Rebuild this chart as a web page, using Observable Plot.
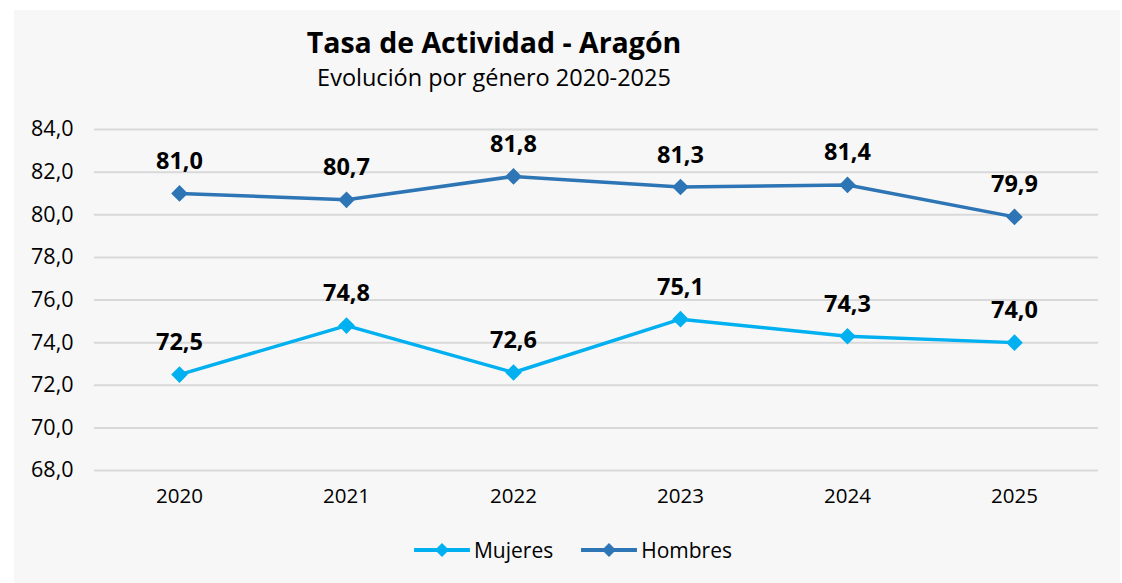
<!DOCTYPE html>
<html>
<head>
<meta charset="utf-8">
<script src="https://cdn.jsdelivr.net/npm/d3@7"></script>
<script src="https://cdn.jsdelivr.net/npm/@observablehq/plot@0.6"></script>
<style>
  html, body { margin: 0; padding: 0; background: #ffffff; width: 1122px; height: 583px; overflow: hidden; }
  #panel { position: absolute; left: 14px; top: 10px; width: 1106px; height: 573px; background: #f7f7f7; font-family: "Open Sans", sans-serif; color: #000; }
  #title { position: absolute; left: 0; width: 960px; top: 17px; text-align: center; font-weight: 700; font-size: 28.5px; line-height: 30px; }
  #subtitle { position: absolute; left: 0; width: 960px; top: 54px; text-align: center; font-size: 23.5px; line-height: 27px; }
  #chart { position: absolute; left: 0; top: 85px; }
  #legend { position: absolute; left: 0; width: 1118px; top: 526px; display: flex; justify-content: center; align-items: center; font-size: 21px; }
  .item { display: flex; align-items: center; margin: 0 14px; }
  .item svg { margin-right: 4px; }
</style>
</head>
<body>
<div id="panel">
  <div id="title">Tasa de Actividad - Aragón</div>
  <div id="subtitle">Evolución por género 2020-2025</div>
  <div id="chart"></div>
  <div id="legend"></div>
</div>
<script>
const years = ["2020", "2021", "2022", "2023", "2024", "2025"];
const mujeres = [72.5, 74.8, 72.6, 75.1, 74.3, 74.0];
const hombres = [81.0, 80.7, 81.8, 81.3, 81.4, 79.9];
const yTicks = [68, 70, 72, 74, 76, 78, 80, 82, 84];
const seriesNames = ["Mujeres", "Hombres"];
const seriesColors = ["#00b0f0", "#2e75b6"];

const data = [];
years.forEach((y, i) => {
  data.push({year: y, value: mujeres[i], serie: "Mujeres"});
  data.push({year: y, value: hombres[i], serie: "Hombres"});
});
const fmt = v => v.toFixed(1).replace(".", ",");

const plot = Plot.plot({
  width: 1106,
  height: 430,
  marginLeft: 80,
  marginRight: 22,
  marginTop: 34,
  marginBottom: 55,
  style: { background: "transparent", fontFamily: "Open Sans, sans-serif", fontSize: "20px", color: "#000" },
  x: { type: "point", domain: years, padding: 0.5, label: null, tickSize: 0, tickPadding: 18 },
  y: { domain: [68, 84], ticks: yTicks, label: null, tickSize: 0, tickPadding: 21, tickFormat: fmt },
  color: { domain: seriesNames, range: seriesColors },
  marks: [
    Plot.gridY(yTicks, { stroke: "#d9d9d9", strokeOpacity: 1, strokeWidth: 2 }),
    Plot.axisY(yTicks, { tickSize: 0, tickPadding: 21, tickFormat: fmt, fontSize: 21.5, fill: "#000", label: null }),
    Plot.axisX({ tickSize: 0, tickPadding: 18, fontSize: 20.5, fill: "#000", label: null }),
    Plot.line(data, { x: "year", y: "value", z: "serie", stroke: "serie", strokeWidth: 3.5 }),
    Plot.dot(data, { x: "year", y: "value", fill: "serie", symbol: "diamond2", r: 7.5 }),
    Plot.text(data, { x: "year", y: "value", text: d => fmt(d.value), dy: -32, fontWeight: 700, fontSize: 23.5, fill: "#000" })
  ]
});
document.getElementById("chart").appendChild(plot);

const legend = d3.select("#legend");
seriesNames.forEach((name, i) => {
  const item = legend.append("div").attr("class", "item");
  const svg = item.append("svg").attr("width", 56).attr("height", 20);
  svg.append("line").attr("x1", 1).attr("x2", 55).attr("y1", 10).attr("y2", 10)
    .attr("stroke", seriesColors[i]).attr("stroke-width", 4).attr("stroke-linecap", "round");
  svg.append("path").attr("d", "M28,3 L35,10 L28,17 L21,10 Z").attr("fill", seriesColors[i]);
  item.append("span").text(name);
});
</script>
</body>
</html>
